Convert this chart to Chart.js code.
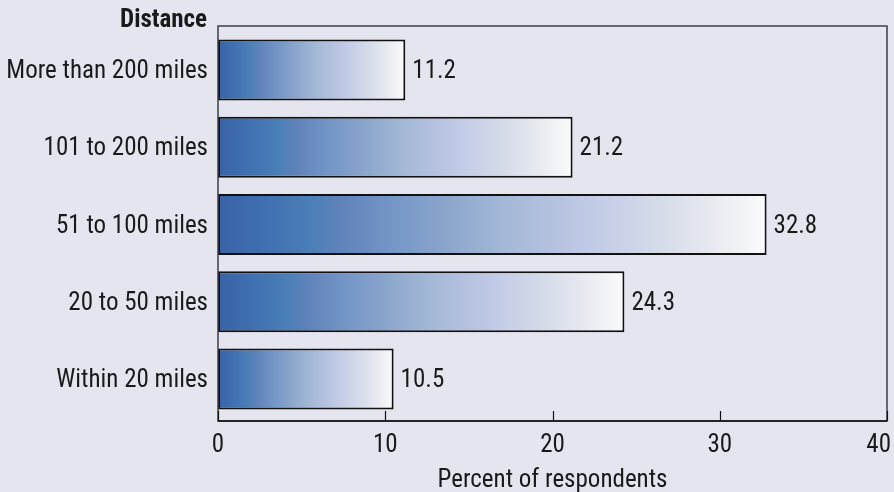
<!DOCTYPE html>
<html>
<head>
<meta charset="utf-8">
<script src="https://cdn.jsdelivr.net/npm/chart.js@4/dist/chart.umd.min.js"></script>
<style>
  html, body { margin: 0; padding: 0; background: #e5e5f0; }
  #wrap { width: 894px; height: 492px; position: relative; }
</style>
</head>
<body>
<div id="wrap"><canvas id="c" width="894" height="492"></canvas></div>
<script>
// ---- data ----
const categories = ["More than 200 miles", "101 to 200 miles", "51 to 100 miles", "20 to 50 miles", "Within 20 miles"];
const values = [11.2, 21.2, 32.8, 24.3, 10.5];
const xTickValues = [0, 10, 20, 30, 40];
const yAxisTitle = "Distance";
const xAxisTitle = "Percent of respondents";

const FONT = "'Liberation Sans Narrow', 'Arial Narrow', 'Roboto Condensed', 'DejaVu Sans Condensed', sans-serif";
const TEXT = '#1a1a1a';

function barGradient(ctx) {
  const chart = ctx.chart;
  const xs = chart.scales && chart.scales.x;
  if (!xs || ctx.type !== 'data' || !ctx.raw) return '#6f8fc4';
  const x0 = xs.getPixelForValue(0);
  const x1 = xs.getPixelForValue(ctx.raw.x);
  if (!isFinite(x0) || !isFinite(x1) || x1 <= x0) return '#6f8fc4';
  const g = chart.ctx.createLinearGradient(x0, 0, x1, 0);
  g.addColorStop(0.00, '#3962a7');
  g.addColorStop(0.08, '#3f6fb0');
  g.addColorStop(0.17, '#4b7fb7');
  g.addColorStop(0.22, '#5f82ba');
  g.addColorStop(0.32, '#7596c7');
  g.addColorStop(0.42, '#8ca6cc');
  g.addColorStop(0.52, '#a3b8d6');
  g.addColorStop(0.62, '#b6c2e0');
  g.addColorStop(0.72, '#c8d0e8');
  g.addColorStop(0.82, '#d7dde9');
  g.addColorStop(0.91, '#eaebf1');
  g.addColorStop(1.00, '#fbfbfc');
  return g;
}

const decor = {
  id: 'decor',
  afterDatasetsDraw(chart) {
    const c = chart.ctx, a = chart.chartArea, xs = chart.scales.x, ys = chart.scales.y;
    c.save();
    // frame
    c.strokeStyle = '#3c3c44';
    c.lineWidth = 1.5;
    c.strokeRect(a.left, a.top, a.right - a.left, a.bottom - a.top);
    // x axis line
    c.strokeStyle = '#111';
    c.beginPath(); c.moveTo(a.left, a.bottom); c.lineTo(a.right, a.bottom); c.stroke();
    // inward tick marks + tick labels
    c.lineWidth = 1.2;
    c.fillStyle = TEXT;
    c.font = '25px ' + FONT;
    c.textAlign = 'center';
    c.textBaseline = 'middle';
    xs.ticks.forEach(t => {
      const p = xs.getPixelForValue(t.value);
      const px = Math.round(p) + 0.5;
      c.beginPath(); c.moveTo(px, a.bottom); c.lineTo(px, a.bottom - 10); c.stroke();
      const label = String(t.value);
      const hw = c.measureText(label).width / 2;
      const lx = Math.min(p, chart.width - 3 - hw);
      c.fillText(label, lx, a.bottom + 25);
    });
    // value labels
    c.textAlign = 'left';
    const meta = chart.getDatasetMeta(0);
    meta.data.forEach((el, i) => {
      c.fillText(values[i].toFixed(1), el.x + 7, el.y + 2);
    });
    // y-axis title
    c.font = 'bold 25px ' + FONT;
    c.textAlign = 'right';
    c.fillText(yAxisTitle, ys.right - 11, a.top - 5);
    c.restore();
  }
};

const chart = new Chart(document.getElementById('c'), {
  type: 'bar',
  data: {
    datasets: [{
      data: values.map((v, i) => ({ x: v, y: i })),
      backgroundColor: barGradient,
      borderColor: '#111',
      borderWidth: 2,
      borderSkipped: false,
      barPercentage: 0.79,
      categoryPercentage: 1
    }]
  },
  options: {
    indexAxis: 'y',
    responsive: false,
    animation: false,
    devicePixelRatio: 1,
    layout: { padding: { top: 26, right: 7, left: 0, bottom: 0 } },
    plugins: { legend: { display: false }, tooltip: { enabled: false } },
    scales: {
      x: {
        type: 'linear',
        min: 0, max: 40,
        offset: false,
        afterBuildTicks: s => { s.ticks = xTickValues.map(v => ({ value: v })); },
        afterFit: s => { s.height = 71; s.paddingLeft = 0; s.paddingRight = 0; },
        grid: { display: false, drawTicks: false, offset: false },
        border: { display: false },
        ticks: { display: false },
        title: { display: true, text: xAxisTitle, color: TEXT, font: { family: FONT, size: 25, lineHeight: 0.92 }, padding: { top: 0, bottom: 0 } }
      },
      y: {
        type: 'linear',
        reverse: true,
        offset: false,
        min: -0.57, max: 4.545,
        afterBuildTicks: s => { s.ticks = categories.map((c, i) => ({ value: i })); },
        afterFit: s => { s.width = 218; s.paddingTop = 0; s.paddingBottom = 0; },
        grid: { display: false, drawTicks: false, offset: false },
        border: { display: false },
        ticks: { color: TEXT, font: { family: FONT, size: 25 }, padding: 10, labelOffset: 2, callback: v => categories[v] }
      }
    }
  },
  plugins: [decor]
});
chart.update();
</script>
</body>
</html>
